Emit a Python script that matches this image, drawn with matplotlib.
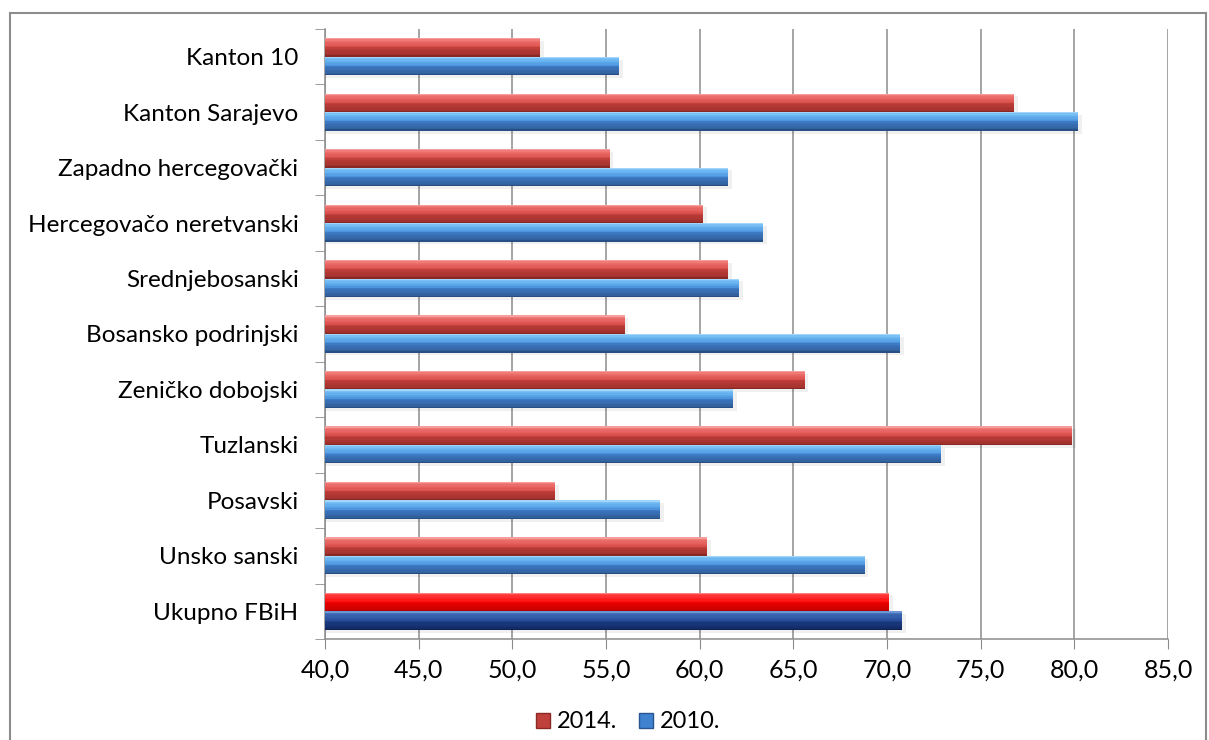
import numpy as np
import matplotlib
matplotlib.use('Agg')
import matplotlib.pyplot as plt
from matplotlib.colors import LinearSegmentedColormap
from matplotlib.patches import Patch, Rectangle

plt.rcParams['font.family'] = ['Lato', 'DejaVu Sans']

# data (top to bottom)
cats = ['Kanton 10', 'Kanton Sarajevo', 'Zapadno hercegovački',
        'Hercegovačo neretvanski', 'Srednjebosanski', 'Bosansko podrinjski',
        'Zeničko dobojski', 'Tuzlanski', 'Posavski', 'Unsko sanski', 'Ukupno FBiH']
v2014 = [51.5, 76.8, 55.2, 60.2, 61.5, 56.0, 65.6, 79.9, 52.3, 60.4, 70.1]
v2010 = [55.7, 80.2, 61.5, 63.4, 62.1, 70.7, 61.8, 72.9, 57.9, 68.8, 70.8]
xticks = [40, 45, 50, 55, 60, 65, 70, 75, 80, 85]
series = ['2014.', '2010.']

# bevel-ish gradients, top -> bottom
red = LinearSegmentedColormap.from_list('r', [(0, '#f9b0ae'), (0.12, '#ee7370'), (0.45, '#dd524e'),
                                              (0.55, '#bb3c37'), (0.88, '#a5332f'), (1, '#7a2421')])
blue = LinearSegmentedColormap.from_list('b', [(0, '#b5e0ff'), (0.12, '#72bcf4'), (0.45, '#4f9ae2'),
                                               (0.55, '#3b75c0'), (0.88, '#33639f'), (1, '#22467a')])
red_tot = LinearSegmentedColormap.from_list('rt', [(0, '#ff9a9a'), (0.12, '#ff3a3a'), (0.45, '#ff1212'),
                                                   (0.55, '#e80000'), (0.88, '#d00000'), (1, '#a00000')])
blue_tot = LinearSegmentedColormap.from_list('bt', [(0, '#7fa8e0'), (0.12, '#3d69b5'), (0.45, '#2c539f'),
                                                    (0.55, '#1b3a80'), (0.88, '#142e6b'), (1, '#0b1d4c')])

fig = plt.figure(figsize=(12.09, 7.40), dpi=100)
ax = fig.add_axes([325 / 1209, 1 - 639 / 740, (1168 - 325) / 1209, (639 - 29) / 740])

n = len(cats)
y = np.arange(n)[::-1]
h = 0.335
nstrip = 14

def grad_bar(yc, val, cmap):
    # soft shadow
    ax.barh(yc - 0.05, val + 0.2, height=h, color='black', alpha=0.06, zorder=2, linewidth=0)
    top = yc + h / 2
    sh = h / nstrip
    for k in range(nstrip):
        ax.barh(top - sh * (k + 0.5), val, height=sh * 1.02, color=cmap((k + 0.5) / nstrip),
                linewidth=0, zorder=3)

for i in range(n):
    last = (i == n - 1)
    grad_bar(y[i] + h / 2, v2014[i], red_tot if last else red)
    grad_bar(y[i] - h / 2, v2010[i], blue_tot if last else blue)

ax.set_xlim(40, 85)
ax.set_ylim(-0.5, n - 0.5)
ax.set_xticks(xticks)
ax.set_xticklabels([('%.1f' % t).replace('.', ',') for t in xticks], fontsize=18)
ax.set_yticks(y)
ax.set_yticklabels(cats, fontsize=17.5)
ax.set_yticks(np.arange(n + 1) - 0.5, minor=True)
ax.tick_params(axis='y', which='major', length=0, pad=19)
ax.tick_params(axis='y', which='minor', length=7, color='#8c8c8c')
ax.tick_params(axis='x', length=7, color='#8c8c8c', pad=7)

ax.grid(axis='x', color='#8c8c8c', linewidth=1.1, zorder=0)
ax.set_axisbelow(True)
for s in ['top', 'right']:
    ax.spines[s].set_visible(False)
for s in ['left', 'bottom']:
    ax.spines[s].set_color('#8c8c8c')
    ax.spines[s].set_linewidth(1.1)

handles = [Patch(facecolor='#c0403b', edgecolor='#8a2a27', label=series[0]),
           Patch(facecolor='#3f82d0', edgecolor='#2a5590', label=series[1])]
fig.legend(handles=handles, loc='center', bbox_to_anchor=(628 / 1209, 1 - 722 / 740), ncol=2,
           frameon=False, fontsize=17, handlelength=0.6, handleheight=0.6,
           handletextpad=0.3, columnspacing=0.9)

fig.patches.append(Rectangle((10 / 1209, -0.02), (1206 - 10) / 1209, 1.02 - 13 / 740,
                             transform=fig.transFigure, fill=False, edgecolor='#8c8c8c',
                             linewidth=1.5))

fig.savefig('out.png', dpi=100)
